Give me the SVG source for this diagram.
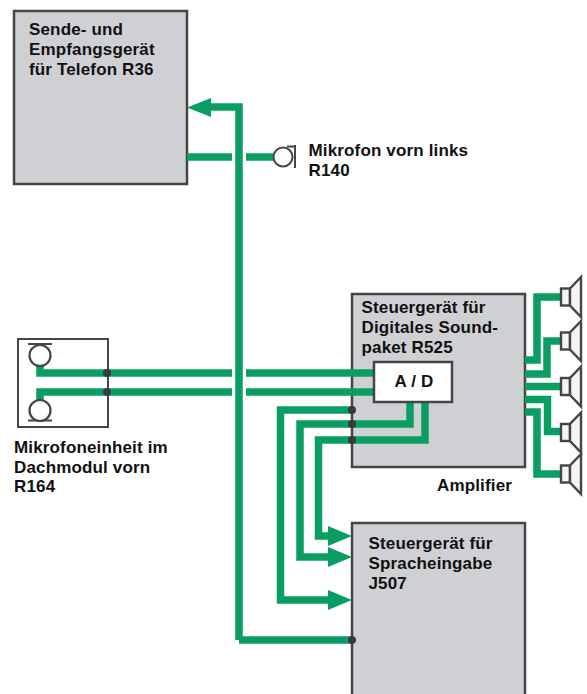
<svg xmlns="http://www.w3.org/2000/svg" width="587" height="694" viewBox="0 0 587 694">
<style>
.box{fill:#cfd0d4;stroke:#454548;stroke-width:2.5}
.wbox{fill:#fff;stroke:#454548;stroke-width:2.5}
.w{fill:none;stroke:#0a9e63;stroke-width:7.5}
.h{fill:#0a9e63}
.d{fill:#3a3a3c}
.s{fill:#f4f4f4;stroke:#454548;stroke-width:2.4}
.t{font-family:"Liberation Sans",Arial,sans-serif;font-weight:700;font-size:17px;letter-spacing:.15px;fill:#111}
</style>
<defs>
<g id="spk"><rect class="s" x="561" y="-8.5" width="9" height="17"/><path class="s" d="M581 -20L570 -8.5V8.5L581 20Z"/></g>
</defs>
<rect width="587" height="694" fill="#fff"/>
<g id="n-telefon"><rect class="box" x="14" y="11" width="173" height="173"/><text class="t"><tspan x="29" y="35">Sende- und</tspan><tspan x="29" y="55">Empfangsgerät</tspan><tspan x="29" y="75">für Telefon R36</tspan></text></g>
<g id="n-amp"><rect class="box" x="352" y="294" width="173" height="173"/><text class="t"><tspan x="361.5" y="313">Steuergerät für</tspan><tspan x="361.5" y="333">Digitales Sound-</tspan><tspan x="361.5" y="353">paket R525</tspan></text></g>
<g id="n-j507"><rect class="box" x="352" y="523" width="173" height="173"/><text class="t"><tspan x="368.500" y="549">Steuergerät für</tspan><tspan x="368.500" y="569">Spracheingabe</tspan><tspan x="368.500" y="589">J507</tspan></text></g>
<g id="n-mikeinheit"><rect x="18" y="339" width="90" height="88" fill="#fff" stroke="#454548" stroke-width="2"/></g>
<g id="connectors">
<path class="w" d="M239 640V107H205"/>
<path class="w" d="M352 640H239"/>
<path class="w" d="M187 157H232M246 157H276"/>
<path class="w" d="M40 364V373H232M246 373H374"/>
<path class="w" d="M40 401V392H232M246 392H374"/>
<path class="w" d="M352 410H280.5V600H330"/>
<path class="w" d="M410 402V424H300V557H330"/>
<path class="w" d="M425 402V440H318.5V536H330"/>
<path class="w" d="M525 360H537V297H561"/>
<path class="w" d="M525 374H547V341H561"/>
<path class="w" d="M525 386.500H561"/>
<path class="w" d="M525 399.500H547.500V431.500H561"/>
<path class="w" d="M525 412H537V474H561"/>
<path class="h" d="M187 107.500L211 98V117Z"/>
<path class="h" d="M352 536L328 526V546Z"/>
<path class="h" d="M352 557L328 547V567Z"/>
<path class="h" d="M352 600L328 590V610Z"/>
<circle class="d" cx="107" cy="373" r="4"/><circle class="d" cx="107" cy="392" r="4"/>
<circle class="d" cx="352" cy="410" r="4"/><circle class="d" cx="352" cy="424" r="4"/><circle class="d" cx="352" cy="440" r="4"/><circle class="d" cx="352" cy="640" r="4"/>
</g>
<g id="n-ad"><rect class="wbox" x="374" y="362" width="78" height="40"/><text class="t" x="394.500" y="387">A / D</text></g>
<g id="n-mic-front"><circle cx="283" cy="157" r="9.500" fill="#fff" stroke="#454548" stroke-width="2"/><path d="M295 145V168M287 146.500H295" fill="none" stroke="#454548" stroke-width="2"/><text class="t"><tspan x="308.500" y="156">Mikrofon vorn links</tspan><tspan x="308.500" y="176">R140</tspan></text></g>
<g id="n-mic-unit"><circle cx="40" cy="355.500" r="10.500" fill="#fff" stroke="#454548" stroke-width="2.2"/><path d="M28 344H52M28 420.500H52" stroke="#454548" stroke-width="2"/><circle cx="40" cy="410.500" r="10.500" fill="#fff" stroke="#454548" stroke-width="2.2"/><text class="t"><tspan x="14" y="453">Mikrofoneinheit im</tspan><tspan x="14" y="472.500">Dachmodul vorn</tspan><tspan x="14" y="492">R164</tspan></text></g>
<g id="n-speakers"><use href="#spk" y="297"/><use href="#spk" y="341"/><use href="#spk" y="386.500"/><use href="#spk" y="432.500"/><use href="#spk" y="474"/></g>
<text id="amplifier" class="t" x="437" y="491">Amplifier</text>
</svg>
